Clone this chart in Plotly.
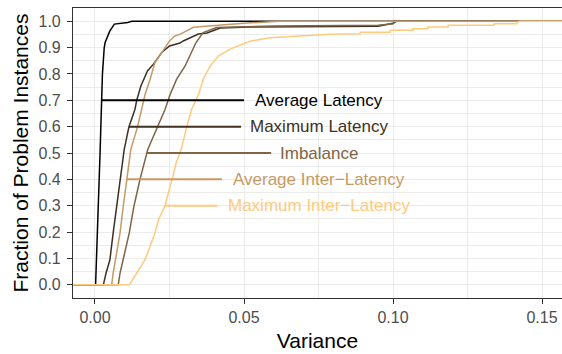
import numpy as np
import plotly.graph_objects as go

# ---------------- data ----------------
series_names = ["Average Latency", "Maximum Latency", "Imbalance",
                "Average Inter\u2212Latency", "Maximum Inter\u2212Latency"]

avg_lat_x = [0.0002, 0.0017, 0.0022, 0.0025, 0.0031, 0.0034, 0.0045, 0.0050, 0.0065, 0.0110, 0.0123]
avg_lat_y = [0.0, 0.50, 0.70, 0.80, 0.90, 0.919, 0.950, 0.963, 0.989, 0.995, 1.0]

max_lat_x = [0.0028, 0.0037, 0.0050, 0.0061, 0.0073, 0.0084, 0.0098, 0.0114, 0.0134, 0.0140,
             0.0154, 0.0176, 0.0196, 0.0224, 0.0250, 0.0285, 0.0296, 0.0347, 0.0376, 0.0420,
             0.0520, 0.0950, 0.0990, 0.1000, 0.1013]
max_lat_y = [0.0, 0.044, 0.095, 0.197, 0.298, 0.40, 0.513, 0.60, 0.665, 0.70,
             0.754, 0.811, 0.837, 0.881, 0.906, 0.917, 0.925, 0.951, 0.955, 0.974,
             0.978, 0.981, 0.988, 0.992, 1.0]

imb_x = [0.0078, 0.0084, 0.0095, 0.0115, 0.0131, 0.0151, 0.0177, 0.0209, 0.0235, 0.0252,
         0.0274, 0.0302, 0.0324, 0.0339, 0.0363, 0.0408, 0.0600, 0.0950, 0.1000, 0.1010]
imb_y = [0.0, 0.044, 0.095, 0.197, 0.30, 0.40, 0.513, 0.60, 0.665, 0.722,
         0.78, 0.829, 0.881, 0.919, 0.957, 0.976, 0.982, 0.985, 0.99, 1.0]

avg_inter_x = [0.0056, 0.0061, 0.0069, 0.0084, 0.0095, 0.0106, 0.0120, 0.0143, 0.0157, 0.0168,
               0.0185, 0.0201, 0.0224, 0.0250, 0.0268, 0.0285, 0.0330, 0.0430, 0.0510, 0.0620]
avg_inter_y = [0.0, 0.044, 0.095, 0.197, 0.30, 0.40, 0.513, 0.60, 0.665, 0.722,
               0.78, 0.843, 0.881, 0.925, 0.944, 0.950, 0.977, 0.987, 0.993, 1.0]

max_inter_x = [0.0115, 0.0140, 0.0168, 0.0185, 0.0201, 0.0213, 0.0235, 0.0246, 0.0259, 0.0272,
               0.0289, 0.0308, 0.0324, 0.0347, 0.0363, 0.0386, 0.0414, 0.0453, 0.0509, 0.0520,
               0.0587, 0.0789, 0.0890, 0.0890, 0.0990, 0.0990, 0.1067, 0.1067, 0.1117, 0.1117,
               0.1185, 0.1185, 0.1340, 0.1340, 0.1416, 0.1416, 0.1426]
max_inter_y = [0.0, 0.044, 0.095, 0.146, 0.197, 0.247, 0.30, 0.349, 0.40, 0.462,
               0.513, 0.60, 0.665, 0.722, 0.78, 0.829, 0.868, 0.894, 0.918, 0.924,
               0.937, 0.950, 0.952, 0.958, 0.958, 0.966, 0.966, 0.971, 0.971, 0.978,
               0.978, 0.985, 0.985, 0.990, 0.990, 0.995, 1.0]

series_x = [avg_lat_x, max_lat_x, imb_x, avg_inter_x, max_inter_x]
series_y = [avg_lat_y, max_lat_y, imb_y, avg_inter_y, max_inter_y]

label_levels = [0.7, 0.6, 0.5, 0.4, 0.3]
label_text_x = 0.0752
label_line_end = [0.0500, 0.0490, 0.0591, 0.0426, 0.0410]

x_ticks = [0.00, 0.05, 0.10, 0.15]
x_tick_text = ["0.00", "0.05", "0.10", "0.15"]
y_ticks = [round(0.1 * i, 1) for i in range(11)]
y_tick_text = [f"{v:.1f}" for v in y_ticks]

# ---------------- styling ----------------
colors = ["#000000", "#3E3123", "#7F6446", "#C49A66", "#FFC97E"]
FONT = "Liberation Sans, Arial, Helvetica, sans-serif"
xrange = [-0.00738, 0.1567]
yrange = [-0.05, 1.05]

fig = go.Figure()

for name, xs, ys, col in zip(series_names, series_x, series_y, colors):
    px = [xrange[0]] + list(xs) + [xrange[1]]
    py = [0.0] + list(ys) + [1.0]
    fig.add_trace(go.Scatter(x=px, y=py, mode="lines", name=name,
                             line=dict(color=col, width=1.5), showlegend=False,
                             hoverinfo="skip"))

for name, xs, ys, col, lvl, xend in zip(series_names, series_x, series_y, colors,
                                        label_levels, label_line_end):
    xstart = float(np.interp(lvl, ys, xs))
    fig.add_trace(go.Scatter(x=[xstart, xend], y=[lvl, lvl], mode="lines",
                             line=dict(color=col, width=2), showlegend=False,
                             hoverinfo="skip"))
    fig.add_annotation(x=label_text_x, y=lvl, text=name, showarrow=False,
                       xanchor="center", yanchor="middle",
                       font=dict(family=FONT, size=17, color=col))

fig.update_layout(
    width=562, height=354,
    margin=dict(l=73, r=0, t=8, b=56),
    paper_bgcolor="white", plot_bgcolor="white",
    font=dict(family=FONT),
)
fig.update_xaxes(
    range=xrange, tickvals=x_ticks, ticktext=x_tick_text,
    showgrid=True, gridcolor="#EBEBEB", gridwidth=1.1,
    minor=dict(dtick=0.025, tick0=0.025, showgrid=True, gridcolor="#EBEBEB", gridwidth=0.55),
    zeroline=False, showline=True, mirror=True, linecolor="#333333", linewidth=1.1,
    ticks="outside", ticklen=5, tickcolor="#333333", tickwidth=1.1,
    tickfont=dict(family=FONT, size=16, color="#4D4D4D"),
    title=dict(text="Variance", font=dict(family=FONT, size=21, color="#000000"), standoff=8),
)
fig.update_yaxes(
    range=yrange, tickvals=y_ticks, ticktext=y_tick_text,
    showgrid=True, gridcolor="#EBEBEB", gridwidth=1.1,
    minor=dict(dtick=0.05, tick0=0.05, showgrid=True, gridcolor="#EBEBEB", gridwidth=0.55),
    zeroline=False, showline=True, mirror=False, linecolor="#333333", linewidth=1.1,
    ticks="outside", ticklen=5, tickcolor="#333333", tickwidth=1.1, ticklabelstandoff=3,
    tickfont=dict(family=FONT, size=16, color="#4D4D4D"),
    title=dict(text="Fraction of Problem Instances", font=dict(family=FONT, size=21, color="#000000"), standoff=4),
)

fig.write_html("out.html")
